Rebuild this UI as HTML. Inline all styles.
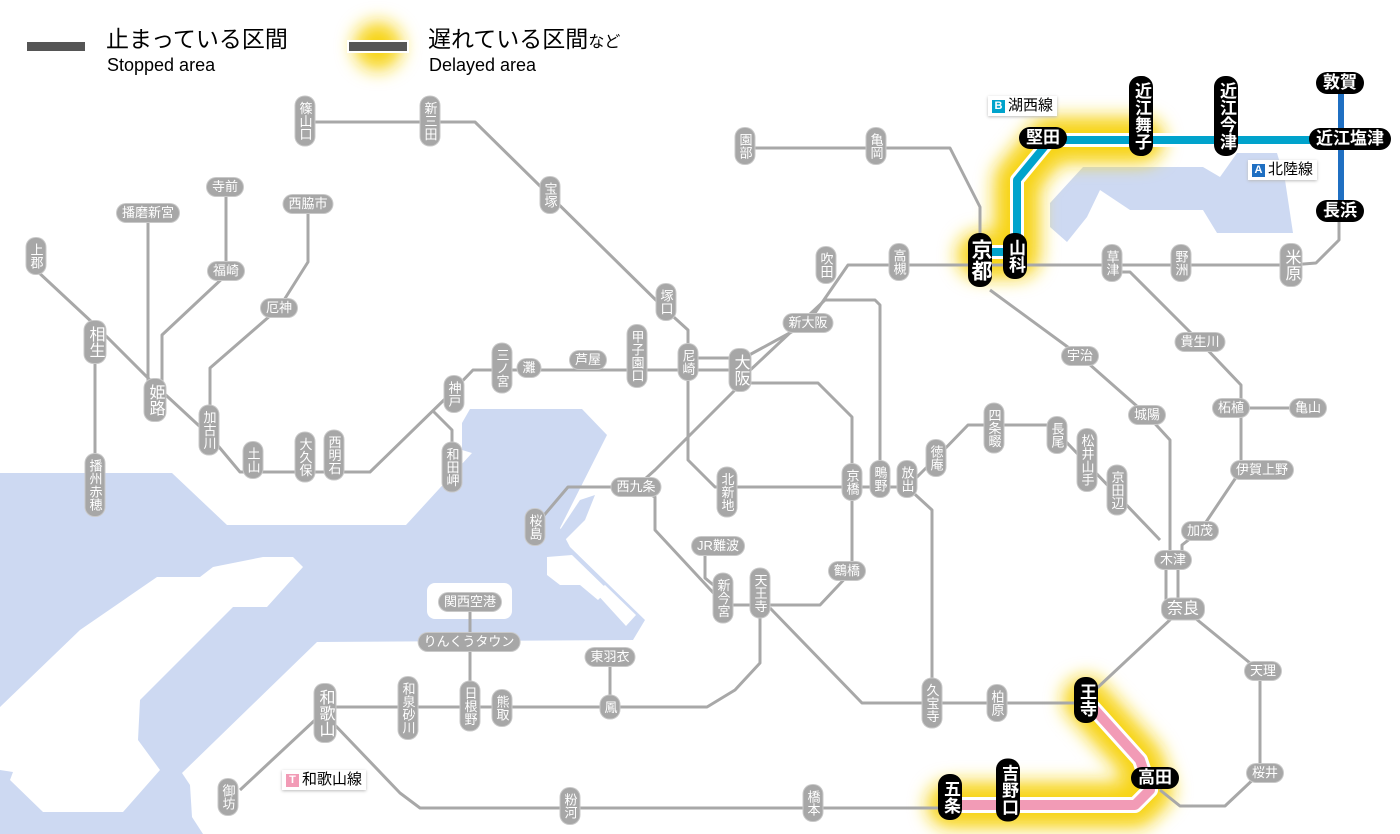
<!DOCTYPE html>
<html><head><meta charset="utf-8">
<style>
body{margin:0;width:1400px;height:834px;overflow:hidden;background:#fff;font-family:"Liberation Sans","Noto Sans CJK JP",sans-serif;}
#w{position:relative;width:1400px;height:834px;}
svg{position:absolute;left:0;top:0;}
.g,.b{position:absolute;transform:translate(-50%,-50%);white-space:nowrap;text-align:center;}
.g{background:#a7a7a7;color:#fff;font-size:13px;line-height:16px;border-radius:9px;padding:1px 5px;box-shadow:0 0 0 1px #c9c9c9;}
.g.v{writing-mode:vertical-rl;padding:5px 1px;line-height:17px;}
.g.L{font-size:16px;line-height:19px;}
.b{background:#000;color:#fff;font-size:17px;line-height:22px;border-radius:11px;padding:0 7px;font-weight:bold;}
.b.v{writing-mode:vertical-rl;padding:6px 0;line-height:24px;}
.tag{position:absolute;background:#fff;box-shadow:0 1px 3px #bbb;font-size:15px;line-height:20px;padding:0 4px;color:#000;}
.tag i{font-style:normal;display:inline-block;color:#fff;font-size:11px;font-weight:bold;width:13px;height:13px;line-height:13px;text-align:center;margin-right:3px;vertical-align:1px;}
.leg{position:absolute;font-size:23px;line-height:26px;color:#000;}
.leg small{font-size:16px;}
.legE{position:absolute;font-size:18px;line-height:20px;color:#000;}
</style></head><body><div id="w">
<svg width="1400" height="834" viewBox="0 0 1400 834">
<defs><filter id="bl" x="-30%" y="-30%" width="160%" height="160%"><feGaussianBlur stdDeviation="9"/></filter></defs>
<path fill="#cdd9f2" d="M0,473 L172,473 L227,525 L406,525 L472,453 L462,450 L462,423 L470,409 L582,409 L607,435 L560,528 L570,547 L645,620 L633,640 L317,642 L182,773 L190,785 L192,817 L203,834 L0,834 Z"/>
<path fill="#fff" d="M0,707 L80,630 L157,577 L200,577 L213,567 L263,557 L293,557 L303,567 L267,607 L233,607 L140,700 L138,740 L160,770 L123,812 L43,812 L10,780 L13,772 L0,770 Z"/>
<rect x="427" y="583" width="85" height="36" rx="8" fill="#fff"/>
<path fill="#fff" d="M547,557 L572,555 L608,590 L598,600 L580,585 L560,585 L547,575 Z M595,592 L605,585 L636,615 L626,626 Z"/>
<path fill="#cdd9f2" d="M580,500 L595,495 L585,520 L565,540 L560,530 Z"/>
<path fill="#cdd9f2" d="M1083,167 L1203,167 L1220,177 L1237,153 L1277,153 L1285,180 L1293,233 L1217,233 L1203,210 L1130,210 L1100,190 L1087,217 L1067,242 L1050,227 L1050,203 Z"/>
<g filter="url(#bl)" fill="none" stroke="#f7d417" stroke-linejoin="round" stroke-linecap="round">
<polyline stroke-width="46" points="980,255 1017,255 1017,180 1050,140 1141,140"/>
<polyline stroke-width="46" points="1086,700 1140,760 1150,790 1135,805 950,805"/>
<circle cx="378" cy="46" r="24" fill="#f7d417" stroke="none"/>
</g>
<g fill="none" stroke="#a8a8a8" stroke-width="3" stroke-linejoin="round">
<polyline points="305,122 475,122 666,310 688,330 688,460 715,487 907,487"/>
<polyline points="36,270 95,325 155,385 209,435 240,472 370,472 447,397 473,370 740,370"/>
<polyline points="432,410 452,430 452,462"/>
<polyline points="95,338 95,485"/>
<polyline points="148,213 148,390"/>
<polyline points="226,187 226,275 162,335 162,390"/>
<polyline points="308,204 308,262 279,308 210,368 210,430"/>
<polyline points="740,360 808,323 848,265 1291,265 1316,263 1339,240 1339,211"/>
<polyline points="688,358 740,358"/>
<polyline points="745,375 825,300 875,300 880,305 880,480"/>
<polyline points="745,383 818,383 852,417 852,571 820,605 723,605"/>
<polyline points="740,385 655,470 636,487"/>
<polyline points="636,487 655,497 655,530 720,600"/>
<polyline points="620,487 568,487 540,520"/>
<polyline points="705,546 705,578 723,593"/>
<polyline points="760,593 760,663 735,690 707,707 335,707"/>
<polyline points="770,608 862,703 1086,703"/>
<polyline points="907,487 932,510 932,700"/>
<polyline points="907,487 936,458 968,425 1050,425 1160,540"/>
<polyline points="1095,690 1172,618"/>
<polyline points="1166,560 1166,600"/><polyline points="1178,560 1178,600"/>
<polyline points="990,290 1080,356 1147,415 1170,440 1170,560"/>
<polyline points="1112,272 1130,272 1200,342 1241,385 1241,470 1200,531 1182,545 1182,560"/>
<polyline points="1241,408 1308,408"/>
<polyline points="1195,618 1250,663 1260,671 1260,773 1225,806 1180,806 1160,790"/>
<polyline points="333,723 400,793 420,808 950,808"/>
<polyline points="315,720 240,790"/>
<polyline points="470,602 470,706"/>
<polyline points="610,657 610,707"/>
<polyline points="745,148 950,148 980,207 980,240"/>
<polyline points="926,265 980,265"/>
</g>
<g fill="none" stroke-linejoin="round">
<polyline stroke="#fff" stroke-width="14" points="980,252 1017,252 1017,180 1050,140 1349,140"/>
<polyline stroke="#00a3cc" stroke-width="8" points="980,252 1017,252 1017,180 1050,140 1349,140"/>
<polyline stroke="#1f6fc2" stroke-width="6" points="1341,82 1341,211"/>
<polyline stroke="#fff" stroke-width="16" points="1086,700 1140,760 1150,790 1135,805 950,805"/>
<polyline stroke="#f29bb6" stroke-width="10" points="1086,700 1140,760 1150,790 1135,805 950,805"/>
</g>
<rect x="27" y="42" width="58" height="9" fill="#555"/>
<rect x="347" y="40" width="62" height="13" fill="#fff"/>
<rect x="349" y="42" width="58" height="9" fill="#555"/>
</svg>

<div class="leg" style="left:106px;top:26px">止まっている区間</div>
<div class="legE" style="left:107px;top:55px">Stopped area</div>
<div class="leg" style="left:428px;top:26px">遅れている区間<small>など</small></div>
<div class="legE" style="left:429px;top:55px">Delayed area</div>

<div class="tag" style="left:988px;top:96px"><i style="background:#00a3cc">B</i>湖西線</div>
<div class="tag" style="left:1248px;top:160px"><i style="background:#1f6fc2">A</i>北陸線</div>
<div class="tag" style="left:282px;top:770px"><i style="background:#f29bb6">T</i>和歌山線</div>

<div class="g v" style="left:305px;top:121px">篠山口</div>
<div class="g v" style="left:430px;top:121px">新三田</div>
<div class="g v" style="left:550px;top:195px">宝塚</div>
<div class="g" style="left:225px;top:187px">寺前</div>
<div class="g" style="left:148px;top:213px">播磨新宮</div>
<div class="g" style="left:308px;top:204px">西脇市</div>
<div class="g v" style="left:36px;top:256px">上郡</div>
<div class="g" style="left:226px;top:271px">福崎</div>
<div class="g" style="left:279px;top:308px">厄神</div>
<div class="g v L" style="left:95px;top:342px">相生</div>
<div class="g v L" style="left:155px;top:400px">姫路</div>
<div class="g v" style="left:209px;top:430px">加古川</div>
<div class="g v" style="left:253px;top:460px">土山</div>
<div class="g v" style="left:305px;top:457px">大久保</div>
<div class="g v" style="left:334px;top:455px">西明石</div>
<div class="g v" style="left:95px;top:485px">播州赤穂</div>
<div class="g v" style="left:454px;top:394px">神戸</div>
<div class="g v" style="left:452px;top:467px">和田岬</div>
<div class="g v" style="left:502px;top:368px">三ノ宮</div>
<div class="g" style="left:529px;top:368px">灘</div>
<div class="g" style="left:588px;top:360px">芦屋</div>
<div class="g v" style="left:637px;top:356px">甲子園口</div>
<div class="g v" style="left:688px;top:362px">尼崎</div>
<div class="g v" style="left:666px;top:302px">塚口</div>
<div class="g v L" style="left:740px;top:370px">大阪</div>
<div class="g" style="left:808px;top:323px">新大阪</div>
<div class="g v" style="left:826px;top:265px">吹田</div>
<div class="g v" style="left:899px;top:262px">高槻</div>
<div class="g v" style="left:745px;top:146px">園部</div>
<div class="g v" style="left:876px;top:146px">亀岡</div>
<div class="g v" style="left:1112px;top:263px">草津</div>
<div class="g v" style="left:1181px;top:263px">野洲</div>
<div class="g v L" style="left:1291px;top:265px">米原</div>
<div class="g" style="left:1080px;top:356px">宇治</div>
<div class="g" style="left:1147px;top:415px">城陽</div>
<div class="g" style="left:1200px;top:342px">貴生川</div>
<div class="g" style="left:1231px;top:408px">柘植</div>
<div class="g" style="left:1308px;top:408px">亀山</div>
<div class="g" style="left:1262px;top:470px">伊賀上野</div>
<div class="g" style="left:1200px;top:531px">加茂</div>
<div class="g" style="left:1173px;top:560px">木津</div>
<div class="g L" style="left:1183px;top:609px">奈良</div>
<div class="g" style="left:1263px;top:671px">天理</div>
<div class="g" style="left:1265px;top:773px">桜井</div>
<div class="g v" style="left:994px;top:428px">四条畷</div>
<div class="g v" style="left:936px;top:458px">徳庵</div>
<div class="g v" style="left:1057px;top:435px">長尾</div>
<div class="g v" style="left:1087px;top:460px">松井山手</div>
<div class="g v" style="left:1117px;top:490px">京田辺</div>
<div class="g v" style="left:907px;top:479px">放出</div>
<div class="g v" style="left:880px;top:479px">鴫野</div>
<div class="g v" style="left:852px;top:482px">京橋</div>
<div class="g v" style="left:727px;top:492px">北新地</div>
<div class="g" style="left:636px;top:487px">西九条</div>
<div class="g v" style="left:535px;top:527px">桜島</div>
<div class="g" style="left:718px;top:546px">JR難波</div>
<div class="g v" style="left:723px;top:598px">新今宮</div>
<div class="g v" style="left:760px;top:593px">天王寺</div>
<div class="g" style="left:847px;top:571px">鶴橋</div>
<div class="g v" style="left:932px;top:703px">久宝寺</div>
<div class="g v" style="left:997px;top:703px">柏原</div>
<div class="g v" style="left:813px;top:803px">橋本</div>
<div class="g v" style="left:570px;top:806px">粉河</div>
<div class="g v" style="left:228px;top:797px">御坊</div>
<div class="g v L" style="left:325px;top:713px">和歌山</div>
<div class="g v" style="left:408px;top:708px">和泉砂川</div>
<div class="g v" style="left:470px;top:706px">日根野</div>
<div class="g v" style="left:502px;top:708px">熊取</div>
<div class="g v" style="left:610px;top:707px">鳳</div>
<div class="g" style="left:610px;top:657px">東羽衣</div>
<div class="g" style="left:469px;top:642px">りんくうタウン</div>
<div class="g" style="left:470px;top:602px">関西空港</div>

<div class="b v" style="left:980px;top:260px;font-size:21px">京都</div>
<div class="b v" style="left:1015px;top:256px">山科</div>
<div class="b" style="left:1043px;top:138px">堅田</div>
<div class="b v" style="left:1141px;top:116px">近江舞子</div>
<div class="b v" style="left:1226px;top:116px">近江今津</div>
<div class="b" style="left:1340px;top:83px">敦賀</div>
<div class="b" style="left:1350px;top:139px">近江塩津</div>
<div class="b" style="left:1340px;top:211px">長浜</div>
<div class="b v" style="left:1086px;top:700px">王寺</div>
<div class="b" style="left:1155px;top:778px">高田</div>
<div class="b v" style="left:1008px;top:790px">吉野口</div>
<div class="b v" style="left:950px;top:797px">五条</div>
</div></body></html>
